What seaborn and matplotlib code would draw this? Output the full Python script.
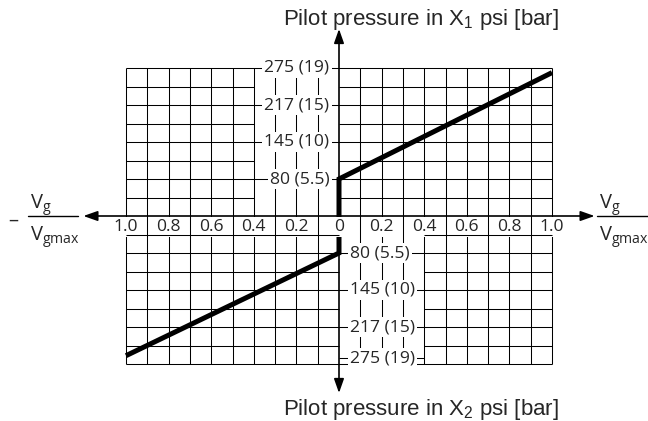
import numpy as np
import matplotlib
matplotlib.use("Agg")
import matplotlib.pyplot as plt
import seaborn as sns

# Displacement ratio Vg/Vgmax: grid columns every 0.1, labels every 0.2
ratio_ticks = [-1.0, -0.8, -0.6, -0.4, -0.2, 0.0, 0.2, 0.4, 0.6, 0.8, 1.0]
ratio_tick_labels = ["1.0", "0.8", "0.6", "0.4", "0.2", "0",
                     "0.2", "0.4", "0.6", "0.8", "1.0"]

# Pilot pressure scale, expressed in grid rows (schematic scale)
x1_rows = [2, 4, 6, 8]
x1_labels = ["80 (5.5)", "145 (10)", "217 (15)", "275 (19)"]
x2_rows = [-2, -4, -6, -7.7]
x2_labels = ["80 (5.5)", "145 (10)", "217 (15)", "275 (19)"]

# Control characteristics for pilot ports X1 and X2
x1_ratio = [0.0, 0.0, 1.0]
x1_level = [0.0, 2.0, 7.75]
x2_ratio = [0.0, 0.0, -1.0]
x2_level = [0.0, -2.0, -7.55]

# Layout: pixels per ratio unit / per grid row, origin position in pixels
PX_X, PX_Y = 213.0, 18.5
X0, Y0 = 339.0, 216.0
W, H = 648, 421

sns.set_theme(style="white")
plt.rcParams["font.family"] = ["Open Sans", "DejaVu Sans"]

fig = plt.figure(figsize=(W / 100, H / 100), dpi=100)
ax = fig.add_axes([0, 0, 1, 1])
ax.set_xlim(-X0 / PX_X, (W - X0) / PX_X)
ax.set_ylim(-(H - Y0) / PX_Y, Y0 / PX_Y)
ax.axis("off")


def px(x_pix):
    return (x_pix - X0) / PX_X


def py(y_pix):
    return (Y0 - y_pix) / PX_Y


GRID = dict(color="black", lw=0.75)

# vertical grid lines
cols = [c / 10 for c in range(-10, 11) if c != 0]
ax.vlines(cols, -8, 8, zorder=1, **GRID)

# horizontal grid lines; rows between labels leave a clear strip by the axis
for k in range(1, 9):
    if k % 2 == 0:
        ax.hlines(k, -1, 1, zorder=3, **GRID)
    else:
        ax.hlines(k, -1, -0.4, zorder=3, **GRID)
        ax.hlines(k, 0, 1, zorder=3, **GRID)
for k in range(-1, -9, -1):
    if k % 2 == 0:
        ax.hlines(k, -1, 1, zorder=3, **GRID)
    else:
        ax.hlines(k, -1, 0, zorder=3, **GRID)
        ax.hlines(k, 0.4, 1, zorder=3, **GRID)
ax.hlines(x2_rows[-1], 0, 0.4, zorder=3, **GRID)

# axes with arrow heads
arrow = dict(arrowstyle="-|>,head_length=0.85,head_width=0.3", color="black",
             lw=1.2, shrinkA=0, shrinkB=0, mutation_scale=10)
ax.annotate("", xy=(1.2, 0), xytext=(0, 0), arrowprops=arrow, zorder=3.5)
ax.annotate("", xy=(-1.2, 0), xytext=(0, 0), arrowprops=arrow, zorder=3.5)
ax.annotate("", xy=(0, py(29)), xytext=(0, 0), arrowprops=arrow, zorder=1.5)
ax.annotate("", xy=(0, py(393)), xytext=(0, 0), arrowprops=arrow, zorder=1.5)

# characteristic curves
line_kw = dict(color="black", lw=3.6, sort=False, estimator=None, ax=ax,
               solid_joinstyle="miter", solid_capstyle="butt", zorder=1.8)
sns.lineplot(x=x1_ratio, y=x1_level, **line_kw)
sns.lineplot(x=x2_ratio, y=x2_level, **line_kw)

TICK_FS = 12.6
box = dict(boxstyle="square,pad=0.12", fc="white", ec="none")

for xv, lbl in zip(ratio_ticks, ratio_tick_labels):
    ax.text(xv, py(227), lbl, ha="center", va="center", fontsize=TICK_FS,
            bbox=box, zorder=2)

for yv, lbl in zip(x1_rows, x1_labels):
    ax.text(px(329.5), yv, lbl, ha="right", va="center", fontsize=TICK_FS,
            bbox=box, zorder=4)
for yv, lbl in zip(x2_rows, x2_labels):
    ax.text(px(350), yv, lbl, ha="left", va="center", fontsize=TICK_FS,
            bbox=box, zorder=4)

# axis titles
TITLE_FS = 16.0
ax.text(px(283), py(25), r"Pilot pressure in $\mathregular{X_1}$ psi [bar]",
        ha="left", va="baseline", fontsize=TITLE_FS, family="Liberation Sans")
ax.text(px(283), py(415), r"Pilot pressure in $\mathregular{X_2}$ psi [bar]",
        ha="left", va="baseline", fontsize=TITLE_FS, family="Liberation Sans")

# displacement ratio labels
FRAC_FS = 14.5
for x_left, x_right in [(28, 78), (597, 650)]:
    ax.plot([px(x_left), px(x_right)], [0, 0], color="black", lw=1.0)
    ax.text(px(x_left + 2), py(209), r"$\mathregular{V_g}$", ha="left",
            va="baseline", fontsize=FRAC_FS)
    ax.text(px(x_left + 2), py(241), r"$\mathregular{V_{gmax}}$", ha="left",
            va="baseline", fontsize=FRAC_FS)
ax.text(px(13), py(221), "\u2013", ha="center", va="center", fontsize=FRAC_FS)

fig.savefig("out.png", dpi=100)
